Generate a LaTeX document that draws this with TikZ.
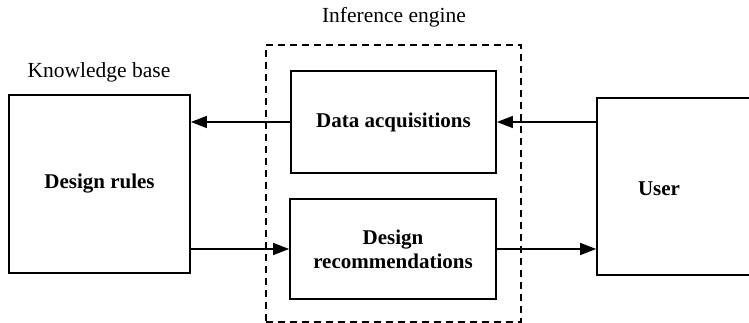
\documentclass[tikz,border=0pt]{standalone}
\usepackage{fontspec}
\setmainfont{Liberation Serif}
\usetikzlibrary{arrows.meta}
\tikzset{
  box/.style={draw, line width=1.8pt, inner sep=0pt, font=\fontsize{21}{24}\selectfont\bfseries, align=center},
  dbox/.style={draw, dashed, line width=1.2pt, dash pattern=on 7pt off 5pt, inner sep=0pt},
  lbl/.style={font=\fontsize{21.5}{24}\selectfont, inner sep=0pt},
  blbl/.style={font=\fontsize{21}{24}\selectfont\bfseries, inner sep=0pt},
  arr/.style={line width=1.4pt, -{Triangle[length=16pt,width=12pt]}}
}
\begin{document}
\begin{tikzpicture}[x=1pt,y=-1pt]
\useasboundingbox (0,0) rectangle (749,323);
\clip (0,0) rectangle (749,323);
\node[dbox, minimum width=255pt, minimum height=277pt] (ie) at (393.5,183.5) {};
\node[lbl] (ielbl) at (394,17) {Inference engine};
\node[lbl] (kblbl) at (99,72) {Knowledge base};
\node[box, minimum width=181pt, minimum height=178pt] (dr) at (99.5,184) {\raisebox{-3pt}{Design rules}};
\node[box, minimum width=205pt, minimum height=102pt] (da) at (393.5,122) {\raisebox{-2pt}{Data acquisitions}};
\node[box, minimum width=206pt, minimum height=100pt] (drec) at (393,249) {Design\\recommendations};
\node[box, minimum width=170pt, minimum height=177pt] (user) at (682,186.5) {};
\node[blbl] (usertxt) at (659,189) {User};
\draw[arr] (da.west) -- (da.west -| dr.east);
\draw[arr] (user.west |- da.east) -- (da.east);
\draw[arr] (dr.east |- drec.west) -- (drec.west);
\draw[arr] (drec.east) -- (drec.east -| user.west);
\end{tikzpicture}
\end{document}
